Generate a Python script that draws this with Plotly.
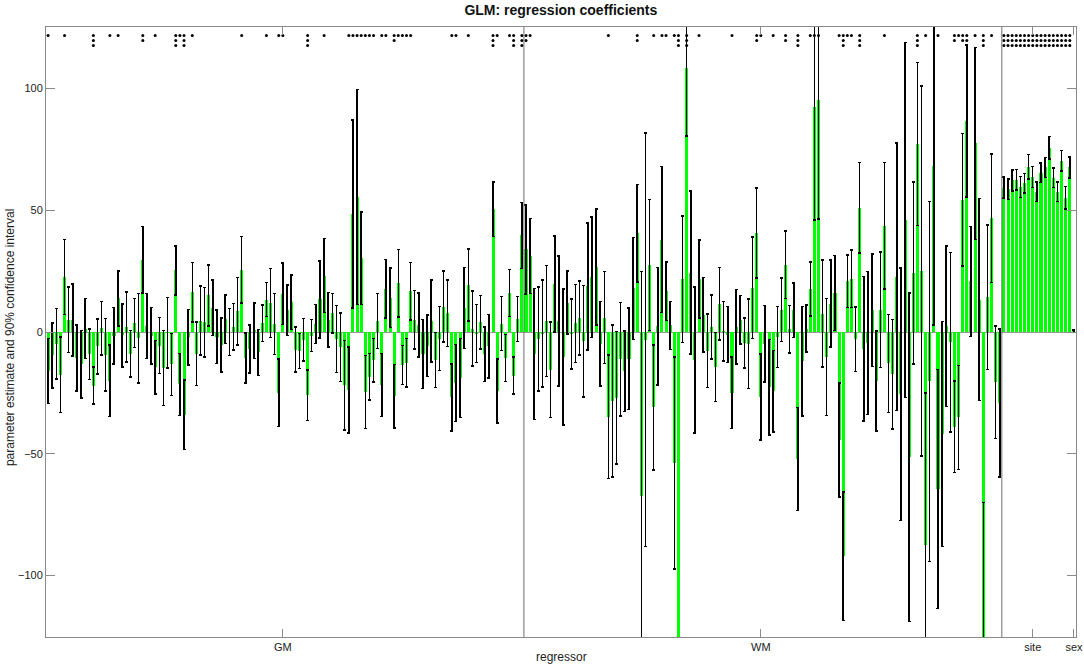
"""GLM regression coefficients: bar chart with 90% CI error bars and significance dots."""

import plotly.graph_objects as go

# ---- data ----
# grey matter regions (1..116): estimate and half-width of 90% CI
gm_est = [
    -16, -9.6, -4.9, -17.5, 22.6, 5, 5, -10.7, -13.3, 1.4,
    -9.2, -22, -5.9, 1.5, -9.3, -20, -1.6, 13.8, -1.4, 2,
    -8.9, 3.7, -2.6, 29.7, 2.5, -1.6, -14.4, -5.6, -14.7, -0.3,
    -13.3, 25.3, -21.5, -34, -2.2, 16.3, -8.9, 4.7, 4, 15,
    10, -2, -5.3, 5.2, 0, 2.2, 8.5, 25.6, -10.7, -7,
    0.5, -8.4, 3.6, 13.3, 11.9, 3.3, -25, 15.7, 9, 12.2,
    -7.2, -7.8, -3.2, -26, -1.5, 3.3, 13.4, 23.2, 5, 7.7,
    -2.9, -6.2, -21.8, -23.8, 48.5, 55.4, 30.3, -24.7, -18.4, -11.6,
    4.5, -21.8, 17.8, 14, -26.4, 20, -13.6, -12.6, 16.8, 5,
    2.9, -9, -5.6, 4.5, -11.5, -2.7, 10.4, 7.7, -26.9, -21,
    -18.9, 9.9, 19.4, 1.4, -0.6, 4, -9.1, -5.8, 50.4, -24.2,
    3.4, -10.7, 16, -17.9, 5.3, 39.7,
]
gm_ci = [
    13.4, 13.4, 14.5, 15.5, 15.4, 13.4, 14.8, 13.5, 13.9, 12.3,
    10.4, 7.6, 11.3, 11, 14.9, 14.7, 11.6, 11.3, 13, 14.4,
    9.6, 10, 18.4, 13.7, 13.4, 11.6, 11, 11.5, 15.4, 14.4,
    12.7, 10, 12.7, 14.2, 11.4, 12.2, 13, 14.2, 14.2, 12.6,
    11.4, 11, 11.1, 9.9, 9.6, 9.5, 13.9, 13.7, 10.3, 9.8,
    11.4, 9.4, 7.4, 7, 14.2, 12.5, 13.9, 12.7, 10.4, 11.2,
    9.2, 7.2, 8.7, 10.3, 6.6, 8.1, 15.8, 15.2, 11.2, 8.1,
    13.8, 14.1, 18.4, 17.7, 38.6, 44.2, 19, 15, 9.5, 8.9,
    11.3, 12.9, 12, 12.2, 13, 13.8, 8, 10, 11.8, 12,
    13.2, 14.2, 12.6, 16.8, 11.2, 13.1, 14.6, 13.6, 13.8, 15.8,
    16.2, 16.6, 14.8, 15.4, 11.9, 11, 11.2, 13, 11.2, 13.2,
    11.1, 9.6, 9.6, 7.6, 9.2, 13.6,
]

# white matter regions (117..232)
wm_est = [
    33.9, 31.2, -9.1, -2.9, -0.6, 4.6, -15.5, 19.7, 4.5, -10.3,
    12.1, -0.8, 3.5, 5.8, -3.7, 18.7, 22.5, 26.7, -4.8, 5.9,
    -34.8, -28.3, -27, -11.2, -16.1, -11, 17.9, 40.6, -67.4, -3.2,
    27.5, -31, 2.4, 38, 16.8, 2.7, -53.8, -175, 21.6, 108.6,
    24.4, -11.5, 21.7, 7, -7.7, 2.1, -14.4, 11.7, 0.3, -1.1,
    -25, 2.2, 5, -4.5, -4.8, 18.2, 40.6, -26.7, -4.8, -22.7,
    -24.3, -2.1, 9.1, 27.6, 1.1, 8.9, -52.2, -12.1, 1.4, 17.7,
    92.3, 95.5, 7.6, -10.3, 11.7, 16, -44.4, -92.2, 20.9, 21.9,
    -3, 51.1, -6.9, -4.5, 8.9, -20.1, 9.1, 43.6, -12.9, -17.3,
    22.7, -25.6, 46, -51.4, 24.3, 77.2, 25, -87.7, -20.3, 68.4,
    -64.5, -41.9, 2.4, -4.2, -39, -35.1, 54.3, 86.7, 20.8, 77.5,
    13.3, -140, 14.2, 46.8, -20.6, -29.1,
]
wm_ci = [
    18.2, 15.4, 26.9, 21.4, 22, 22.8, 19.7, 19.7, 26.7, 27.9,
    12.9, 14.4, 16.1, 15.2, 22.9, 26.1, 24.7, 23.8, 17.3, 18.9,
    25.4, 31.2, 27.2, 23.4, 16.6, 20.8, 20.9, 20.1, 92.3, 84.9,
    26.9, 25.6, 24.2, 30, 12, 9.8, 43.5, 45, 26, 28,
    33.5, 30, 16, 15.3, 15, 13.1, 14.1, 14.9, 12.2, 11.5,
    14.7, 15.3, 10, 10.2, 18.4, 20.9, 18.5, 17.6, 15.7, 19.6,
    16.8, 12.5, 13, 13.9, 9.8, 11.2, 21.2, 22.5, 9.7, 11.1,
    46.3, 49, 22, 24, 17.9, 15.4, 23.4, 26.4, 10.8, 11.8,
    13.2, 18.6, 29.7, 29.4, 23.1, 20.6, 23.7, 26, 20.1, 22.5,
    54.9, 51.9, 73, 67.5, 37.4, 33.5, 76, 62.6, 74, 65.5,
    49, 46.3, 33, 36.9, 18.8, 21.3, 27.2, 31.2, 22.6, 39.4,
    41.5, 70, 29.7, 26.4, 23.1, 30.4,
]

# site dummies (233..249) and sex (250)
site_est = [59.3, 58.6, 62.3, 62.5, 59.6, 61.2, 67.9, 63.6, 57.7,
            65.5, 67.6, 75.7, 63.3, 57.7, 70.4, 55.1, 67.6]
site_ci = [4.3, 4.2, 4.3, 4.2, 4.3, 4.0, 5.1, 4.3, 4.0,
           4.0, 4.1, 4.6, 4.0, 4.0, 4.2, 4.6, 4.3]
sex_est = [0.3]
sex_ci = [0.5]

# number of significance dots above each regressor (index: count)
stars = {
    1: 1, 5: 1, 12: 3, 16: 1, 18: 1, 24: 2, 27: 1, 32: 3, 33: 1, 34: 3, 36: 1,
    48: 1, 54: 1, 57: 1, 58: 1, 64: 3, 68: 1, 74: 1, 75: 1, 76: 1, 77: 1,
    78: 1, 79: 1, 80: 1, 82: 1, 83: 1, 85: 2, 86: 1, 87: 1, 88: 1, 89: 1,
    99: 1, 100: 1, 103: 1, 109: 3, 110: 1, 113: 1, 114: 3, 116: 3, 117: 2,
    118: 1, 137: 1, 144: 2, 148: 1, 150: 1, 151: 1, 153: 1, 154: 3, 156: 3,
    159: 1, 167: 1, 173: 2, 174: 1, 177: 1, 180: 2, 183: 3, 186: 1, 187: 1,
    188: 1, 193: 1, 194: 3, 195: 1, 196: 1, 198: 3, 204: 1, 212: 3, 214: 1,
    217: 1, 221: 2, 222: 1, 223: 2, 224: 2, 226: 1, 228: 3, 230: 1,
}
for i in range(233, 250):
    stars[i] = 3

group_labels = ["GM", "WM", "site", "sex"]
group_ticks = [58, 174, 240, 250]
group_bounds = [116.5, 232.5]

# ---- figure ----
est = gm_est + wm_est + site_est + sex_est
ci = gm_ci + wm_ci + site_ci + sex_ci
idx = list(range(1, len(est) + 1))

AXIS_GREY = "#8a8a8a"
FONT = "Liberation Sans, Arial, sans-serif"
YLIM = 125.3
STAR_TOP, STAR_STEP = 121.8, 2.05

fig = go.Figure()

fig.add_trace(
    go.Bar(
        x=idx, y=est,
        width=0.74,
        marker=dict(color="#00FF00", line=dict(width=0)),
        error_y=dict(type="data", array=ci, symmetric=True,
                     color="black", thickness=1.5, width=1.5),
        name="estimate",
    )
)

sx, sy = [], []
for i, n in stars.items():
    for k in range(n):
        sx.append(i)
        sy.append(STAR_TOP - k * STAR_STEP)
fig.add_trace(
    go.Scatter(
        x=sx, y=sy, mode="markers",
        marker=dict(color="black", size=3, symbol="circle", line=dict(width=0)),
        name="significance",
    )
)

for b in group_bounds:
    fig.add_shape(type="line", x0=b, x1=b, y0=0, y1=1, xref="x", yref="paper",
                  line=dict(color="#6e6e6e", width=1))

fig.update_xaxes(
    range=[0.5, len(est) + 0.5],
    tickmode="array", tickvals=group_ticks, ticktext=group_labels,
    ticks="inside", ticklen=8, tickcolor=AXIS_GREY,
    showline=True, linecolor=AXIS_GREY, linewidth=1, mirror="ticks",
    showgrid=False, zeroline=False, automargin=False,
    tickfont=dict(size=11, color="#222", family=FONT),
)
fig.update_yaxes(
    range=[-YLIM, YLIM],
    tickmode="array", tickvals=[-100, -50, 0, 50, 100],
    ticks="inside", ticklen=9, tickcolor=AXIS_GREY,
    showline=True, linecolor=AXIS_GREY, linewidth=1, mirror="ticks",
    showgrid=False, zeroline=True, zerolinecolor="#9a9a9a", zerolinewidth=1,
    automargin=False,
    tickfont=dict(size=11, color="#222", family=FONT),
)

fig.add_annotation(text="parameter estimate and 90% confidence interval",
                   xref="paper", yref="paper", x=0, y=0.49, xshift=-36,
                   xanchor="center", yanchor="middle",
                   textangle=-90, showarrow=False,
                   font=dict(size=12, color="#222", family=FONT))
fig.add_annotation(text="regressor", xref="paper", yref="paper", x=0.5, y=0,
                   yshift=-20, xanchor="center", yanchor="middle",
                   showarrow=False,
                   font=dict(size=12, color="#222", family=FONT))

fig.update_layout(
    title=dict(text="<b>GLM: regression coefficients</b>", x=0.5174, y=0.985,
               xanchor="center", yanchor="middle",
               font=dict(size=14, color="#111", family=FONT)),
    width=1084, height=668,
    margin=dict(l=46, r=8, t=27, b=31),
    plot_bgcolor="white", paper_bgcolor="white",
    showlegend=False, bargap=0,
)

# the page's default body margin would shift the figure by 8 px
fig.write_html("out.html", config={"displayModeBar": False},
               post_script="document.body.style.margin='0';")
